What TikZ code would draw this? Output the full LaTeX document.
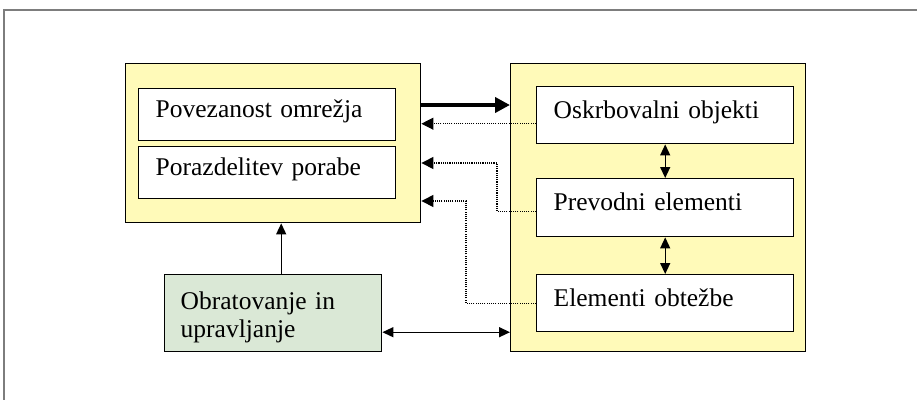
\documentclass[tikz,border=0pt]{standalone}
\usepackage{fontspec}
\setmainfont{Liberation Serif}
\usetikzlibrary{arrows.meta}
\definecolor{yel}{RGB}{255,250,185}
\definecolor{grn}{RGB}{218,232,214}
\definecolor{frm}{RGB}{125,125,125}
\tikzset{
  outer/.style={draw=black, line width=1.4pt, fill=yel, anchor=north west, inner sep=0pt},
  ibox/.style={draw=black, line width=1.4pt, fill=white, anchor=north west, inner xsep=17pt, inner ysep=0pt,
    align=left, text height=0.8em, text depth=0.2em, font=\fontsize{25.5}{28}\selectfont},
  gbox/.style={draw=black, line width=1.4pt, fill=grn, anchor=north west, inner xsep=16pt, inner ysep=0pt,
    align=left, font=\fontsize{25.5}{28}\selectfont},
  thickarr/.style={line width=4pt, -{Triangle[length=15pt,width=15pt]}},
  dotarr/.style={line width=1.1pt, dash pattern=on 1.1pt off 1.1pt, -{Triangle[length=12pt,width=12pt]}},
  dblarr/.style={line width=1.4pt, {Triangle[length=11pt,width=10pt]}-{Triangle[length=11pt,width=10pt]}},
  uparr/.style={line width=1.4pt, -{Triangle[length=11pt,width=10pt]}}
}
\begin{document}
\begin{tikzpicture}[x=1pt,y=-1pt]
\useasboundingbox (0,0) rectangle (917,400);
\draw[frm, line width=1.6pt] (917,10) -- (4,10) -- (4,400);
% outer boxes
\node[outer, minimum width=295pt, minimum height=159pt] (lbox) at (125,63) {};
\node[outer, minimum width=295pt, minimum height=288pt] (rbox) at (510,63) {};
% inner boxes
\node[ibox, text width=223pt, minimum height=52pt] (pov) at (138,88) {Povezanost omrežja};
\node[ibox, text width=223pt, minimum height=52pt] (por) at (138,146) {Porazdelitev porabe};
\node[ibox, text width=223pt, minimum height=57pt] (osk) at (536,86) {Oskrbovalni objekti};
\node[ibox, text width=223pt, minimum height=58pt] (prev) at (536,178) {Prevodni elementi};
\node[ibox, text width=223pt, minimum height=57pt] (elem) at (536,274) {Elementi obtežbe};
\node[gbox, text width=185pt, minimum width=217pt, minimum height=77pt] (obr) at (164,274) {\rule{0pt}{26pt}Obratovanje in\\upravljanje};
% connectors
\draw[thickarr] ([yshift=-42pt]lbox.north east) -- ([yshift=-42pt]rbox.north west);
\draw[dotarr] ([yshift=-8.5pt]osk.west) coordinate (d1) -- (d1 -| lbox.east);
\draw[dotarr] ([yshift=-4pt]prev.west) -- ++(-39pt,0) |- ([yshift=-100pt]lbox.north east);
\draw[dotarr] (elem.west) -- ++(-70pt,0) |- ([yshift=-138pt]lbox.north east);
\draw[dblarr] (osk.south) -- (prev.north);
\draw[dblarr] (prev.south) -- (elem.north);
\draw[uparr] ([xshift=8pt]obr.north) coordinate (u1) -- (u1 |- lbox.south);
\draw[dblarr] ([yshift=-19pt]obr.east) coordinate (h1) -- (h1 -| rbox.west);
\end{tikzpicture}
\end{document}
